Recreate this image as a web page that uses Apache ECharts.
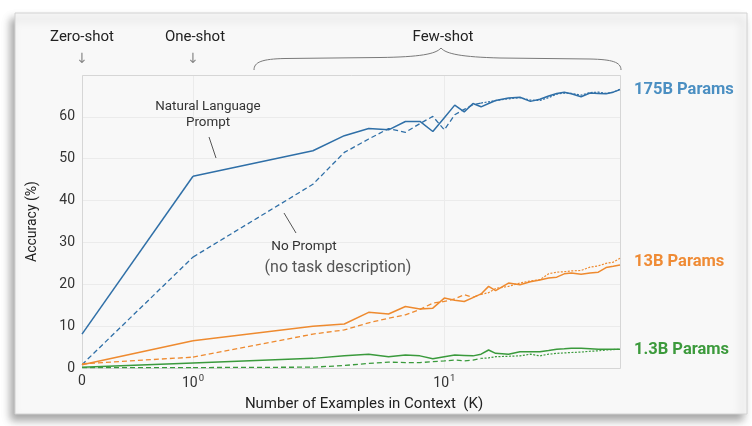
<!DOCTYPE html>
<html>
<head>
<meta charset="utf-8">
<script src="https://cdn.jsdelivr.net/npm/echarts@6/dist/echarts.min.js"></script>
<style>
html,body{margin:0;padding:0;background:#ffffff;}
#chart{width:752px;height:426px;}
</style>
</head>
<body>
<div id="chart"></div>
<script>
// ---- data ----
const kValues = [0,1,3,4,5,6,7,8,9,10,11,12,13,14,15,16,18,20,22,24,26,28,30,32,35,38,41,44,47,50];
const acc175Prompt   = [8.1,45.8,51.9,55.5,57.2,56.9,58.9,58.9,56.5,59.8,62.8,61.2,63.2,62.4,63.2,63.9,64.5,64.7,63.7,64.2,65.0,65.6,65.9,65.5,64.8,65.7,65.6,65.5,65.9,66.5];
const acc175NoPrompt = [0.8,26.5,43.9,51.5,54.7,57.2,56.3,58.4,60.1,56.9,60.5,61.8,62.9,63.3,63.6,63.9,64.3,64.6,64.0,63.9,64.6,65.4,65.7,65.6,65.2,65.8,65.9,65.6,65.9,66.6];
const acc13Prompt    = [0.8,6.5,10.0,10.5,13.3,12.9,14.7,14.1,14.3,16.7,16.2,15.9,16.8,17.7,19.5,18.5,20.3,19.9,20.6,21.0,21.5,21.7,22.5,22.7,22.4,22.7,22.9,24.0,24.3,24.6];
const acc13NoPrompt  = [1.0,2.6,8.1,9.1,10.8,11.9,12.7,14.0,15.5,15.9,16.5,17.5,16.9,17.6,18.0,19.0,19.5,20.3,20.8,21.1,22.5,22.9,23.0,23.2,23.3,24.1,24.4,25.0,25.3,26.2];
const acc1p3Prompt   = [0.2,1.2,2.3,2.9,3.3,2.7,3.1,2.9,2.2,2.7,3.1,3.0,2.9,3.3,4.3,3.5,3.3,3.9,3.9,3.9,4.2,4.5,4.6,4.7,4.7,4.6,4.5,4.5,4.5,4.5];
const acc1p3NoPrompt = [0.1,0.1,0.2,0.6,1.1,1.4,1.3,1.3,1.5,1.7,1.9,1.7,1.9,2.3,2.4,2.7,2.8,2.9,3.3,2.9,3.3,3.5,3.6,3.7,3.8,4.0,4.1,4.3,4.4,4.5];
const yTicks = [0,10,20,30,40,50,60];
const modelNames = ['175B Params','13B Params','1.3B Params'];

// ---- styles ----
const colors = ['#2f6fa7','#ee8a2f','#3a9a3c'];
const labelColors = ['#4b8fc2','#ef8b35','#3c9a3c'];

function seg(vals, lo, hi){
  return kValues.map((k,i)=>[k, vals[i]]).filter(p=>p[0]>=lo && p[0]<=hi);
}
const models = [
  [acc175Prompt, acc175NoPrompt],
  [acc13Prompt, acc13NoPrompt],
  [acc1p3Prompt, acc1p3NoPrompt]
];
const series = [];
models.forEach((m, idx)=>{
  const c = colors[idx];
  const base = {type:'line', showSymbol:false, silent:true, animation:false, z:3};
  series.push(Object.assign({}, base, {xAxisIndex:0,yAxisIndex:0,data:seg(m[0],0,1),lineStyle:{color:c,width:1.5}}));
  series.push(Object.assign({}, base, {xAxisIndex:1,yAxisIndex:1,data:seg(m[0],1,50),lineStyle:{color:c,width:1.5}}));
  series.push(Object.assign({}, base, {xAxisIndex:0,yAxisIndex:0,data:seg(m[1],0,1),lineStyle:{color:c,width:1.3,type:[5,3]}}));
  series.push(Object.assign({}, base, {xAxisIndex:1,yAxisIndex:1,data:seg(m[1],1,14),lineStyle:{color:c,width:1.3,type:[5,3]}}));
  series.push(Object.assign({}, base, {xAxisIndex:1,yAxisIndex:1,data:seg(m[1],14,50),lineStyle:{color:c,width:1.2,type:[2,1.5]}}));
});

const FONT = 'Roboto, "Liberation Sans", sans-serif';
const splitCol = '#ebebeb';
const braceStyle = {fill:null, stroke:'#7a7a7a', lineWidth:1};
const chart = echarts.init(document.getElementById('chart'), null, {renderer:'canvas'});
const option = {
  backgroundColor:'#ffffff',
  animation:false,
  textStyle:{fontFamily:FONT},
  grid:[
    {left:82, top:75, width:111, height:293, show:false},
    {left:193, top:75, width:427, height:293, show:false}
  ],
  xAxis:[
    {gridIndex:0, type:'value', min:0, max:1, interval:1,
     axisLine:{show:false}, axisTick:{show:false},
     splitLine:{show:false},
     axisLabel:{fontFamily:FONT, fontSize:14, color:'#333', margin:6,
       formatter:v=> v===0 ? '0' : ''}
    },
    {gridIndex:1, type:'log', logBase:10, min:1, max:50,
     axisLine:{show:false}, axisTick:{show:false},
     splitLine:{show:true, lineStyle:{color:splitCol, width:1}},
     minorSplitLine:{show:false},
     axisLabel:{fontFamily:FONT, fontSize:14, color:'#333', margin:6, showMaxLabel:false,
       formatter:v=>{
         if (Math.abs(v-1)<1e-9) return '{b|10}{s|0}';
         if (Math.abs(v-10)<1e-9) return '{b|10}{s|1}';
         return '';
       },
       rich:{b:{fontSize:14,color:'#333',fontFamily:FONT}, s:{fontSize:9.5,color:'#333',fontFamily:FONT,padding:[0,0,9,1]}}
     }
    }
  ],
  yAxis:[
    {gridIndex:0, type:'value', min:0, max:70, interval:10,
     axisLine:{show:false}, axisTick:{show:false},
     splitLine:{show:true, lineStyle:{color:splitCol, width:1}},
     axisLabel:{fontFamily:FONT, fontSize:14, color:'#333', margin:7,
       formatter:v=> yTicks.indexOf(v)>=0 ? String(v) : ''},
     name:'Accuracy (%)', nameLocation:'middle', nameGap:43,
     nameTextStyle:{fontFamily:FONT, fontSize:14, color:'#222'}
    },
    {gridIndex:1, type:'value', min:0, max:70, interval:10,
     axisLine:{show:false}, axisTick:{show:false},
     splitLine:{show:true, lineStyle:{color:splitCol, width:1}},
     axisLabel:{show:false}
    }
  ],
  graphic:[
    {type:'rect', z:-10, shape:{x:15,y:13,width:732,height:401},
     style:{fill:'#f8f8f8', stroke:'#d2d2d2', lineWidth:1, shadowBlur:8, shadowOffsetX:-4, shadowOffsetY:6, shadowColor:'rgba(0,0,0,0.35)'}},
    {type:'rect', z:1, shape:{x:82.5,y:75.5,width:538,height:293},
     style:{fill:null, stroke:'#d6d6d6', lineWidth:1}},
    {type:'text', z:5, style:{x:82, y:37, text:'Zero-shot', fill:'#222', font:'15px '+FONT, textAlign:'center', textVerticalAlign:'middle'}},
    {type:'text', z:5, style:{x:195, y:37, text:'One-shot', fill:'#222', font:'15px '+FONT, textAlign:'center', textVerticalAlign:'middle'}},
    {type:'text', z:5, style:{x:443, y:37, text:'Few-shot', fill:'#222', font:'15px '+FONT, textAlign:'center', textVerticalAlign:'middle'}},
    {type:'text', z:5, style:{x:82, y:59, text:'\u2193', fill:'#888', font:'14px "DejaVu Sans"', textAlign:'center', textVerticalAlign:'middle'}},
    {type:'text', z:5, style:{x:193, y:59, text:'\u2193', fill:'#888', font:'14px "DejaVu Sans"', textAlign:'center', textVerticalAlign:'middle'}},
    {type:'bezierCurve', z:5, shape:{x1:254,y1:70,cpx1:254,cpy1:62,cpx2:262,cpy2:59,x2:285,y2:58.5}, style:braceStyle},
    {type:'line', z:5, shape:{x1:285,y1:58.5,x2:380,y2:57.5}, style:braceStyle},
    {type:'bezierCurve', z:5, shape:{x1:380,y1:57.5,cpx1:420,cpy1:57,cpx2:436,cpy2:54,x2:441,y2:48}, style:braceStyle},
    {type:'bezierCurve', z:5, shape:{x1:441,y1:48,cpx1:446,cpy1:54,cpx2:462,cpy2:57,x2:500,y2:58}, style:braceStyle},
    {type:'line', z:5, shape:{x1:500,y1:58,x2:590,y2:59}, style:braceStyle},
    {type:'bezierCurve', z:5, shape:{x1:590,y1:59,cpx1:612,cpy1:59.5,cpx2:621,cpy2:62,x2:621,y2:70}, style:braceStyle},
    {type:'text', z:5, style:{x:208, y:107, text:'Natural Language', fill:'#333', font:'13.4px '+FONT, textAlign:'center', textVerticalAlign:'middle'}},
    {type:'text', z:5, style:{x:208, y:123, text:'Prompt', fill:'#333', font:'13.4px '+FONT, textAlign:'center', textVerticalAlign:'middle'}},
    {type:'line', z:5, shape:{x1:209,y1:137,x2:216,y2:158}, style:{stroke:'#555', lineWidth:1}},
    {type:'text', z:5, style:{x:304, y:247, text:'No Prompt', fill:'#333', font:'13.6px '+FONT, textAlign:'center', textVerticalAlign:'middle'}},
    {type:'line', z:5, shape:{x1:284,y1:213,x2:296,y2:233}, style:{stroke:'#555', lineWidth:1}},
    {type:'text', z:5, style:{x:338, y:268, text:'(no task description)', fill:'#555', font:'16px '+FONT, textAlign:'center', textVerticalAlign:'middle'}},
    {type:'text', z:5, style:{x:364, y:404, text:'Number of Examples in Context  (K)', fill:'#222', font:'15px '+FONT, textAlign:'center', textVerticalAlign:'middle'}},
    {type:'text', z:5, style:{x:634, y:90, text:modelNames[0], fill:labelColors[0], font:'bold 16.5px '+FONT, textAlign:'left', textVerticalAlign:'middle'}},
    {type:'text', z:5, style:{x:634, y:262, text:modelNames[1], fill:labelColors[1], font:'bold 16.5px '+FONT, textAlign:'left', textVerticalAlign:'middle'}},
    {type:'text', z:5, style:{x:634, y:350, text:modelNames[2], fill:labelColors[2], font:'bold 16.5px '+FONT, textAlign:'left', textVerticalAlign:'middle'}}
  ],
  series: series
};
chart.setOption(option);
</script>
</body>
</html>
